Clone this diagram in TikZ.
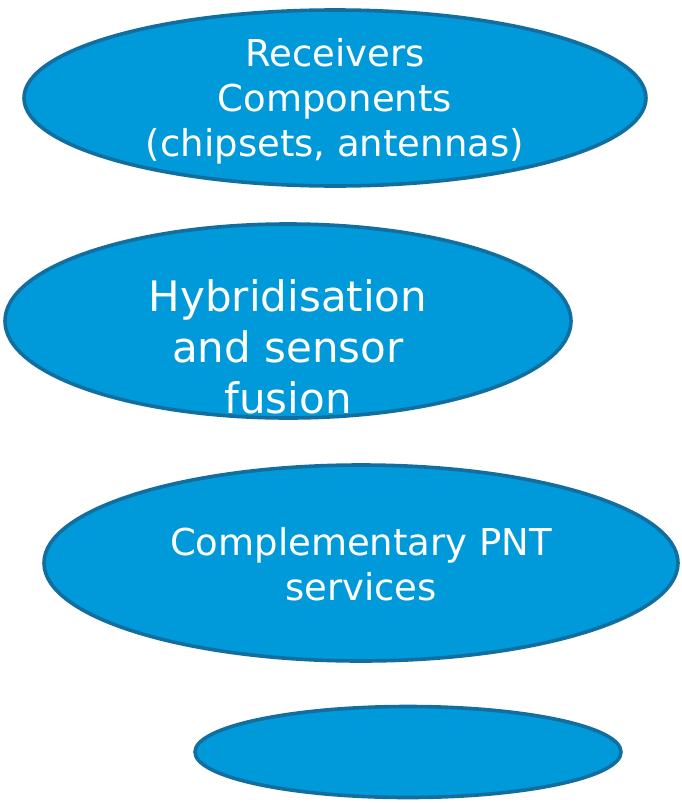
\documentclass[tikz,border=0pt]{standalone}
\usepackage{fontspec}
\setmainfont{DejaVu Sans}
\usetikzlibrary{shapes.geometric}
\definecolor{segfill}{RGB}{0,153,218}
\definecolor{segline}{RGB}{18,110,158}

\begin{document}
\begin{tikzpicture}[
        x=1pt, y=-1pt,
        blob/.style = {ellipse, draw=segline, fill=segfill, line width=3.6pt, inner sep=0pt},
        blobtext/.style = {text=white, align=center, font=\fontsize{37}{45}\selectfont},
        bigtext/.style = {blobtext, font=\fontsize{42}{51}\selectfont},
    ]
        \useasboundingbox (0,0) rectangle (681,803);
        \node[blob, minimum width=622pt, minimum height=176pt] (rx) at (335,98) {};
        \node[blob, minimum width=566pt, minimum height=194pt] (hyb) at (288,321) {};
        \node[blob, minimum width=634pt, minimum height=196pt] (cpnt) at (361,563) {};
        \node[blob, minimum width=426pt, minimum height=91pt] (spare) at (408,752) {};
        \node[blobtext] (rxtext) at ([yshift=-3pt]rx.center) {Receivers\\Components\\(chipsets, antennas)};
        \node[bigtext] (hybtext) at ([yshift=-26pt]hyb.center) {Hybridisation\\and sensor\\fusion};
        \node[blobtext] (cpnttext) at ([yshift=-1pt]cpnt.center) {Complementary PNT\\services};
    \end{tikzpicture}
\end{document}
